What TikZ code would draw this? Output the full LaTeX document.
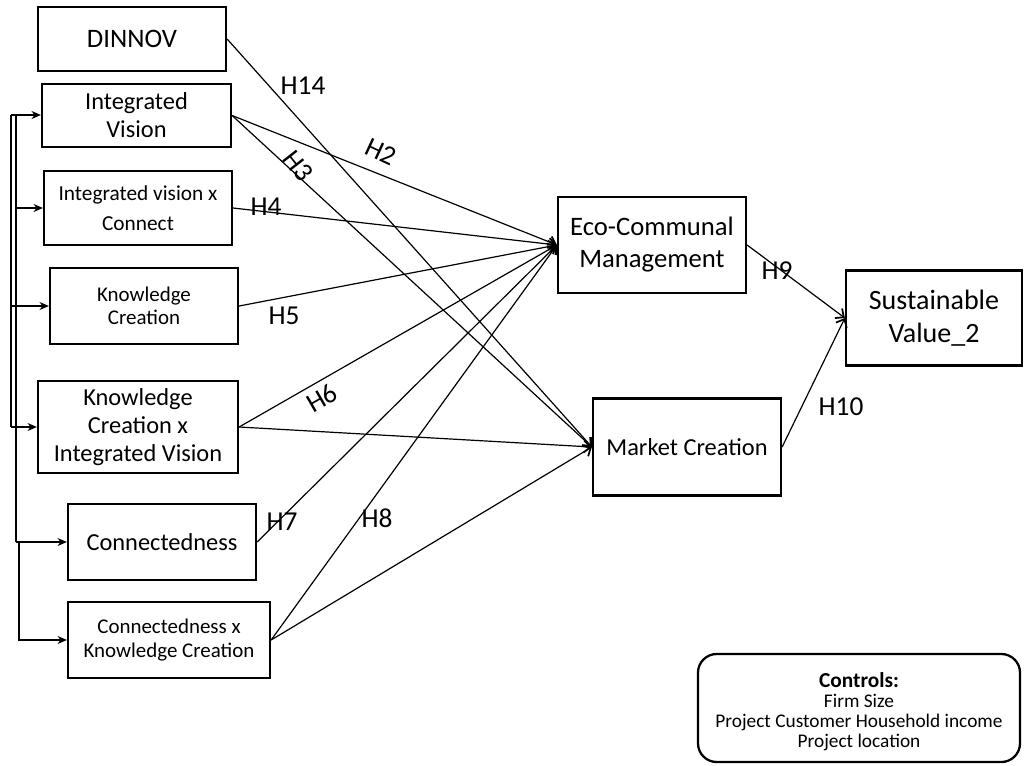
\documentclass[tikz,border=0pt]{standalone}
\usepackage{fontspec}
\setmainfont{Carlito}
\usetikzlibrary{arrows.meta}
\begin{document}
\begin{tikzpicture}[x=0.75pt,y=-0.75pt,
  box/.style={draw,line width=1.7pt,align=center,inner sep=2pt,font=\fontsize{18.3}{21}\selectfont},
  bigbox/.style={box,font=\fontsize{20}{24}\selectfont},
  smallbox/.style={box,font=\fontsize{16}{18}\selectfont},
  link/.style={line width=0.9pt,-{Straight Barb[length=5pt,width=9pt,line width=1.3pt]}},
  feed/.style={line width=0.9pt},
  feedarr/.style={line width=0.9pt,-{Stealth[length=7pt,width=6pt]}},
  hlab/.style={font=\fontsize{20.5}{22}\selectfont,inner sep=0pt}]
\useasboundingbox (0,0) rectangle (1025,765);

% predictor boxes
\node[bigbox,minimum width=188*0.75pt,minimum height=64*0.75pt] (din) at (132,39) {DINNOV};
\node[box,minimum width=189*0.75pt,minimum height=63*0.75pt] (iv) at (136.5,115.5) {Integrated\\Vision};
\node[smallbox,font=\fontsize{16}{22}\selectfont,minimum width=188*0.75pt,minimum height=74*0.75pt] (ivc) at (138,208) {Integrated vision x\\Connect};
\node[smallbox,font=\fontsize{15.7}{17}\selectfont,minimum width=188*0.75pt,minimum height=76*0.75pt] (kc) at (144,306) {Knowledge\\Creation};
\node[box,minimum width=200*0.75pt,minimum height=92*0.75pt] (kciv) at (138,427) {Knowledge\\Creation x\\Integrated Vision};
\node[box,minimum width=188*0.75pt,minimum height=76*0.75pt] (con) at (162,542) {Connectedness};
\node[smallbox,font=\fontsize{15.7}{18.5}\selectfont,minimum width=202*0.75pt,minimum height=76*0.75pt] (ckc) at (169,640) {Connectedness x\\Knowledge Creation};

% mediators and outcome
\node[bigbox,minimum width=188*0.75pt,minimum height=96*0.75pt] (eco) at (652,245) {Eco-Communal\\Management};
\node[box,minimum width=188*0.75pt,minimum height=97*0.75pt] (mc) at (687,447) {Market Creation};
\node[box,font=\fontsize{21}{25}\selectfont,minimum width=176*0.75pt,minimum height=95*0.75pt] (sv) at (934,318) {Sustainable\\Value\_2};

% controls
\node[draw,line width=1.7pt,rounded corners=14pt,align=center,minimum width=322*0.75pt,minimum height=108*0.75pt,font=\fontsize{14.5}{15}\selectfont] (ctrl) at (859,708)
  {\rule{0pt}{17pt}{\fontsize{16}{17}\selectfont\bfseries Controls:}\\Firm Size\\Project Customer Household income\\Project location};

% feedback brackets on the left
\coordinate (ta) at (11,115);
\coordinate (ba) at (11,427);
\coordinate (tb) at (16,115);
\coordinate (bb) at (16,542);
\coordinate (bc) at (19,542);
\draw[feed] (ta) -- (ba);
\draw[feed] (tb) -- (bb);
\draw[feedarr] (ta) -- (ta -| iv.west);
\draw[feedarr] (tb |- ivc.west) -- (ivc.west);
\draw[feedarr] (ta |- kc.west) -- (kc.west);
\draw[feedarr] (ba) -- (kciv.west);
\draw[feedarr] (bb) -- (con.west);
\draw[feedarr] (bc) |- (ckc.west);

% hypothesised paths
\draw[link] (din.east) -- (mc.west);
\draw[link] (iv.east) -- (eco.west);
\draw[link] (iv.east) -- (mc.west);
\draw[link] (ivc.east) -- (eco.west);
\draw[link] (kc.east) -- (eco.west);
\draw[link] (kciv.east) -- (eco.west);
\draw[link] (kciv.east) -- (mc.west);
\draw[link] (con.east) -- (eco.west);
\draw[link] (ckc.east) -- (eco.west);
\draw[link] (ckc.east) -- (mc.west);
\draw[link] (eco.east) -- (sv.west);
\draw[link] (mc.east) -- (sv.west);

% path labels
\node[hlab] (h14) at (303,86) {H14};
\node[hlab,rotate=-25] (h2) at (381,152) {H2};
\node[hlab,rotate=-52] (h3) at (298,166) {H3};
\node[hlab] (h4) at (266,207) {H4};
\node[hlab] (h5) at (284,316) {H5};
\node[hlab,rotate=30] (h6) at (322,398) {H6};
\node[hlab] (h7) at (282,522) {H7};
\node[hlab] (h8) at (377,518) {H8};
\node[hlab] (h9) at (777,271) {H9};
\node[hlab] (h10) at (841,407) {H10};
\end{tikzpicture}
\end{document}
